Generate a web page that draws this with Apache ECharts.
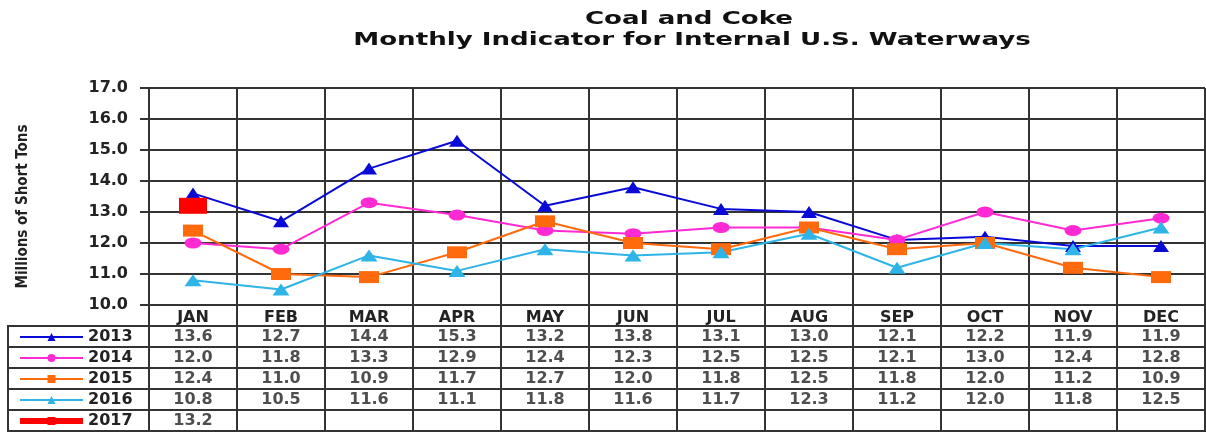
<!DOCTYPE html>
<html>
<head>
<meta charset="utf-8">
<script src="https://cdn.jsdelivr.net/npm/echarts@6/dist/echarts.min.js"></script>
<style>html,body{margin:0;padding:0;background:#fff}#c{width:1206px;height:432px}</style>
</head>
<body>
<div id="c"></div>
<script>
const months = ['JAN','FEB','MAR','APR','MAY','JUN','JUL','AUG','SEP','OCT','NOV','DEC'];
const years = ['2013','2014','2015','2016','2017'];
const v2013 = [13.6,12.7,14.4,15.3,13.2,13.8,13.1,13.0,12.1,12.2,11.9,11.9];
const v2014 = [12.0,11.8,13.3,12.9,12.4,12.3,12.5,12.5,12.1,13.0,12.4,12.8];
const v2015 = [12.4,11.0,10.9,11.7,12.7,12.0,11.8,12.5,11.8,12.0,11.2,10.9];
const v2016 = [10.8,10.5,11.6,11.1,11.8,11.6,11.7,12.3,11.2,12.0,11.8,12.5];
const v2017 = [13.2];
const yMin = 10, yMax = 17, yStep = 1;
const titleLines = ['Coal and Coke', 'Monthly Indicator for Internal U.S. Waterways'];

const FONT = 'DejaVu Sans';
const TXT = '#222';
const GRID_C = '#333';
const FS = 16;

const seriesDefs = [
  {name: years[0], data: v2013, color: '#0a0ad6', symbol: 'triangle', size: [16, 12], lw: 2},
  {name: years[1], data: v2014, color: '#ff2ad4', symbol: 'circle', size: [17, 11], lw: 2},
  {name: years[2], data: v2015, color: '#ff6a0d', symbol: 'rect', size: [20, 12], lw: 2},
  {name: years[3], data: v2016, color: '#2eb4e6', symbol: 'triangle', size: [17, 12], lw: 2},
  {name: years[4], data: v2017, color: '#ff0000', symbol: 'rect', size: [28, 16], lw: 6}
];

const lineSeries = seriesDefs.map(d => ({
  name: d.name, type: 'line', xAxisIndex: 0, yAxisIndex: 0,
  data: d.data, symbol: d.symbol, symbolSize: d.size, showSymbol: true,
  lineStyle: {color: d.color, width: d.lw},
  itemStyle: {color: d.color},
  z: 3
}));

const tableData = [];
seriesDefs.forEach((d, r) => {
  d.data.forEach((v, i) => tableData.push([i, r + 1, v]));
});

const tableRows = [''].concat(years);
const legendData = seriesDefs.map(d => ({name: d.name, lineStyle: {width: d.lw}}));

const option = {
  animation: false,
  backgroundColor: '#fff',
  graphic: [
    {type: 'text', x: 689, y: 19, scaleX: 1.45, silent: true,
     style: {text: titleLines[0], font: 'bold 18px "DejaVu Sans"', fill: '#111', textAlign: 'center', textVerticalAlign: 'middle'}},
    {type: 'text', x: 692, y: 40, scaleX: 1.45, silent: true,
     style: {text: titleLines[1], font: 'bold 18px "DejaVu Sans"', fill: '#111', textAlign: 'center', textVerticalAlign: 'middle'}}
  ],
  legend: {
    data: legendData, orient: 'vertical', left: 17, top: 328, padding: 0,
    itemWidth: 63, itemHeight: 10, itemGap: 3,
    textStyle: {fontFamily: FONT, fontWeight: 'bold', fontSize: FS, lineHeight: 18, color: TXT},
    selectedMode: false
  },
  grid: [
    {left: 149, right: 1, top: 88, height: 217, containLabel: false},
    {left: 149, right: 1, top: 305, height: 126, show: true, borderColor: GRID_C, borderWidth: 2},
    {left: 8, width: 141, top: 326, height: 105, show: true, borderColor: GRID_C, borderWidth: 2}
  ],
  xAxis: [
    {gridIndex: 0, type: 'category', data: months, boundaryGap: true,
     axisLine: {show: true, lineStyle: {color: GRID_C, width: 2}},
     axisTick: {show: false},
     axisLabel: {show: true, margin: 5, fontFamily: FONT, fontWeight: 'bold', fontSize: FS, color: TXT},
     splitLine: {show: true, lineStyle: {color: GRID_C, width: 2}}},
    {gridIndex: 1, type: 'category', data: months, boundaryGap: true,
     axisLine: {show: false}, axisTick: {show: false}, axisLabel: {show: false},
     splitLine: {show: true, lineStyle: {color: GRID_C, width: 2}}},
    {gridIndex: 2, type: 'category', data: [''], boundaryGap: true,
     axisLine: {show: false}, axisTick: {show: false}, axisLabel: {show: false},
     splitLine: {show: false}}
  ],
  yAxis: [
    {gridIndex: 0, type: 'value', min: yMin, max: yMax, interval: yStep,
     name: 'Millions of Short Tons', nameLocation: 'middle', nameGap: 118, nameRotate: 90,
     nameTextStyle: {fontFamily: 'DejaVu Sans Condensed', fontWeight: 'bold', fontSize: 15, color: TXT, padding: [0, 20, 0, 0]},
     axisLine: {show: true, lineStyle: {color: GRID_C, width: 2}},
     axisTick: {show: true, inside: false, length: 9, lineStyle: {color: GRID_C, width: 2}},
     axisLabel: {margin: 21, formatter: v => v.toFixed(1), fontFamily: FONT, fontWeight: 'bold', fontSize: FS, color: TXT},
     splitLine: {show: true, lineStyle: {color: GRID_C, width: 2}}},
    {gridIndex: 1, type: 'category', data: tableRows, inverse: true, boundaryGap: true,
     axisLine: {show: false}, axisTick: {show: false}, axisLabel: {show: false},
     splitLine: {show: true, lineStyle: {color: GRID_C, width: 2}}},
    {gridIndex: 2, type: 'category', data: years, inverse: true, boundaryGap: true,
     axisLine: {show: false}, axisTick: {show: false}, axisLabel: {show: false},
     splitLine: {show: true, lineStyle: {color: GRID_C, width: 2}}}
  ],
  series: lineSeries.concat([{
    name: 'table', type: 'scatter', xAxisIndex: 1, yAxisIndex: 1,
    data: tableData, symbolSize: 0, silent: true,
    label: {show: true, position: 'inside', formatter: p => p.value[2].toFixed(1),
            fontFamily: FONT, fontWeight: 'bold', fontSize: FS, color: TXT}
  }])
};

const chart = echarts.init(document.getElementById('c'), null, {renderer: 'canvas'});
chart.setOption(option);
</script>
</body>
</html>
